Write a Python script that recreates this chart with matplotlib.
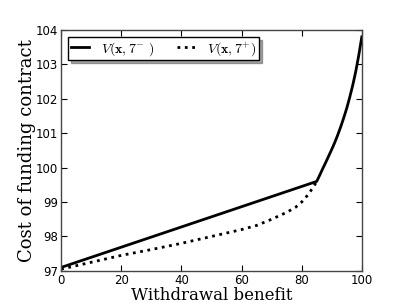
import matplotlib
matplotlib.use("Agg")
import matplotlib.pyplot as plt

plt.rcParams["mathtext.fontset"] = "cm"

# V(x, 7-) : linear up to the kink, then convex rise
x_minus = [0, 85, 86, 87, 88, 89, 90, 91, 92, 93, 94, 95, 96, 97, 98, 99, 100]
v_minus = [97.1, 99.6, 99.78, 99.97, 100.15, 100.34, 100.53, 100.73, 100.95,
           101.19, 101.45, 101.73, 102.05, 102.4, 102.8, 103.27, 103.8]

# V(x, 7+)
x_plus = [0, 10, 20, 30, 40, 50, 60, 65, 70, 75, 78, 80, 82, 84, 85]
v_plus = [97.05, 97.25, 97.45, 97.62, 97.8, 98.0, 98.2, 98.32, 98.5, 98.7, 98.85, 99.0, 99.2, 99.45, 99.6]

xticks = [0, 20, 40, 60, 80, 100]
yticks = [97, 98, 99, 100, 101, 102, 103, 104]

fig = plt.figure(figsize=(4.02, 3.03), dpi=100)
ax = fig.add_axes([0.152, 0.106, 0.748, 0.795])

ax.plot(x_minus, v_minus, color="black", lw=2, label=r"$V(\mathbf{x},7^{-}\ )$")
ax.plot(x_plus, v_plus, color="black", lw=2, ls=":", label=r"$V(\mathbf{x},7^{+})$")

ax.set_xlim(0, 100)
ax.set_ylim(97, 104)
ax.set_xticks(xticks)
ax.set_yticks(yticks)
ax.tick_params(direction="in", top=True, right=True, labelsize=8.5, length=4, pad=2)
for s in ax.spines.values():
    s.set_linewidth(1)
    s.set_color("#444444")

ax.set_xlabel("Withdrawal benefit", family="DejaVu Serif", fontsize=12, labelpad=0)
ax.set_ylabel("Cost of funding contract", family="DejaVu Serif", fontsize=13, labelpad=0)

leg = ax.legend(loc="upper left", ncol=2, fontsize=10, shadow=True, fancybox=False,
                handlelength=1.3, handletextpad=0.9, columnspacing=1.6,
                borderpad=0.2, borderaxespad=0.5)
leg.get_frame().set_edgecolor("black")

fig.savefig("out.png", dpi=100)
